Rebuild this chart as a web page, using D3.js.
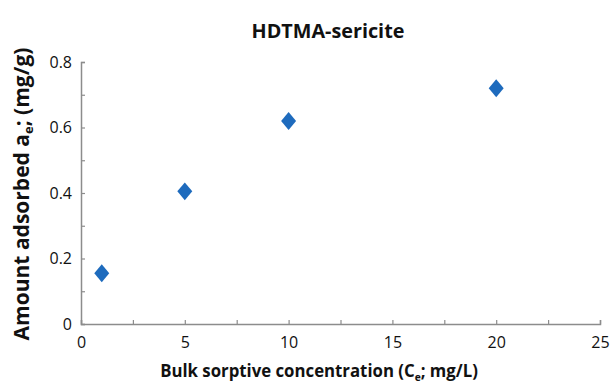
<!DOCTYPE html>
<html>
<head>
<meta charset="utf-8">
<script src="https://cdn.jsdelivr.net/npm/d3@7"></script>
<style>
  body { margin: 0; background: #fff; }
  svg { display: block; font-family: "Open Sans", "Noto Sans", sans-serif; }
</style>
</head>
<body>
<svg id="svg" width="610" height="389"></svg>
<script>
'use strict';

// data
var conc = [1, 5, 10, 20];
var adsorbed = [0.155, 0.405, 0.62, 0.72];
var xTicks = [0, 2.5, 5, 7.5, 10, 12.5, 15, 17.5, 20, 22.5, 25];
var xTickLabels = ['0', '', '5', '', '10', '', '15', '', '20', '', '25'];
var yTicks = [0, 0.1, 0.2, 0.3, 0.4, 0.5, 0.6, 0.7, 0.8];
var yTickLabels = ['0', '', '0.2', '', '0.4', '', '0.6', '', '0.8'];

var svg = d3.select('#svg');
var plotLeft = 81, plotRight = 600, plotTop = 62, plotBottom = 324;

var x = d3.scaleLinear().domain([0, 25]).range([plotLeft, plotRight]);
var y = d3.scaleLinear().domain([0, 0.8]).range([plotBottom, plotTop]);

var xAxis = d3.axisBottom(x)
    .tickValues(xTicks)
    .tickSizeInner(-4)
    .tickSizeOuter(-4)
    .tickPadding(10)
    .tickFormat(function(d, i) { return xTickLabels[i]; });

var yAxis = d3.axisLeft(y)
    .tickValues(yTicks)
    .tickSizeInner(-4)
    .tickSizeOuter(-4)
    .tickPadding(9)
    .tickFormat(function(d, i) { return yTickLabels[i]; });

var gx = svg.append('g')
    .attr('transform', 'translate(0,' + plotBottom + ')')
    .call(xAxis);
var gy = svg.append('g')
    .attr('transform', 'translate(' + plotLeft + ',0)')
    .call(yAxis);

[gx, gy].forEach(function(g) {
  g.select('.domain').attr('stroke', '#8c8c8c').attr('stroke-width', 1.5);
  g.selectAll('.tick line').attr('stroke', '#8c8c8c').attr('stroke-width', 1.2);
  g.selectAll('.tick text')
      .attr('fill', '#111')
      .style('font-size', '16px')
      .style('font-family', '"Open Sans", sans-serif');
});
gx.selectAll('.tick text').attr('dy', '0.85em');

// markers
var diamond = d3.symbol(d3.symbolSquare).size(112);
svg.append('g').selectAll('path')
    .data(conc)
    .join('path')
    .attr('d', diamond)
    .attr('fill', '#1e6bbd')
    .attr('transform', function(d, i) {
      return 'translate(' + x(d) + ',' + y(adsorbed[i]) + ') scale(1,1.2) rotate(45)';
    });

// squeeze a label horizontally to a target width (reference font is narrow)
function fitText(sel, cx, cy, width, angle) {
  var w = sel.node().getComputedTextLength();
  var k = Math.min(1, width / w);
  sel.attr('transform', 'translate(' + cx + ',' + cy + ') rotate(' + angle + ') scale(' + k + ',1)');
}

// title
var title = svg.append('text')
    .attr('text-anchor', 'middle')
    .attr('font-weight', 'bold')
    .attr('font-size', 20)
    .attr('fill', '#111')
    .text('HDTMA-sericite');
fitText(title, 328, 38, 153, 0);

// x label
var xl = svg.append('text')
    .attr('text-anchor', 'middle')
    .attr('font-weight', 'bold')
    .attr('font-size', 18)
    .attr('fill', '#111');
xl.append('tspan').text('Bulk sorptive concentration (C');
xl.append('tspan').attr('font-size', 11).attr('dy', 4).text('e');
xl.append('tspan').attr('dy', -4).text('; mg/L)');
fitText(xl, 319, 377, 318, 0);

// y label
var yl = svg.append('text')
    .attr('text-anchor', 'middle')
    .attr('font-weight', 'bold')
    .attr('font-size', 21)
    .attr('fill', '#111');
yl.append('tspan').text('Amount adsorbed a');
yl.append('tspan').attr('font-size', 13).attr('dy', 4).text('e');
yl.append('tspan').attr('dy', -4).text('; (mg/g)');
fitText(yl, 29, 194, 308, -90);
</script>
</body>
</html>
